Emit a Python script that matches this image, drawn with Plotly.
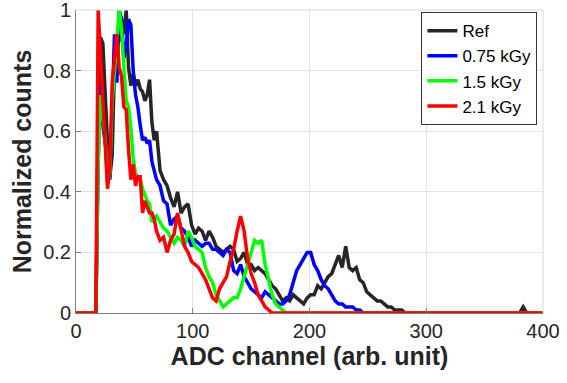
import plotly.graph_objects as go

# ADC channels (x positions of the spectrum samples)
channel = [
    0, 17, 19, 21, 23, 25, 27, 29, 31, 33,
    35, 37, 39, 41, 43, 45, 47, 49, 51, 53,
    55, 57, 59, 61, 63, 65, 67, 69,
    72, 75, 78, 81, 84, 87, 90, 93, 96, 99,
    102, 105, 108, 111, 114, 117, 120, 123, 126, 129,
    132, 135, 138, 141, 144, 147, 150, 153, 156, 159,
    162, 165, 168, 171, 174, 177, 180, 183, 186, 189,
    192, 195, 198, 201, 204, 207, 210, 213, 216, 219,
    222, 225, 228, 231, 234, 237, 240, 243, 246, 249,
    252, 255, 258, 261, 264, 267, 270, 273, 276, 279,
    282, 285, 288, 291, 294, 297,
    330, 380, 383, 386, 400,
]

ref_counts = [
    0, 0, 0.6, 0.91, 0.89, 0.7, 0.56, 0.45, 0.52, 0.83,
    0.88, 0.9, 0.97, 0.92, 1.0, 0.81, 0.75, 0.79, 0.75, 0.77,
    0.74, 0.73, 0.7, 0.72, 0.77, 0.63, 0.57, 0.6,
    0.47, 0.44, 0.42, 0.38, 0.35, 0.4, 0.33, 0.35, 0.36, 0.29,
    0.26, 0.28, 0.27, 0.24, 0.27, 0.25, 0.22, 0.21, 0.2, 0.21,
    0.22, 0.21, 0.17, 0.18, 0.2, 0.16, 0.16, 0.14, 0.15, 0.14,
    0.13, 0.11, 0.09, 0.08, 0.06, 0.04, 0.05, 0.04, 0.06, 0.05,
    0.04, 0.03, 0.05, 0.06, 0.06, 0.09, 0.08, 0.1, 0.12, 0.13,
    0.16, 0.19, 0.15, 0.22, 0.15, 0.14, 0.15, 0.11, 0.1, 0.07,
    0.06, 0.05, 0.04, 0.04, 0.03, 0.02, 0.02, 0.01, 0.01, 0.01,
    0, 0, 0, 0, 0, 0,
    0, 0, 0.02, 0, 0,
]

kgy075_counts = [
    0, 0, 0.5, 0.75, 0.62, 0.56, 0.48, 0.44, 0.68, 0.92,
    0.76, 1.0, 0.97, 0.84, 0.88, 0.97, 0.95, 0.8, 0.72, 0.68,
    0.62, 0.57, 0.58, 0.56, 0.57, 0.5, 0.47, 0.44,
    0.42, 0.37, 0.36, 0.29, 0.31, 0.32, 0.28, 0.27, 0.25, 0.22,
    0.24, 0.23, 0.22, 0.23, 0.23, 0.21, 0.21, 0.2, 0.19, 0.21,
    0.2, 0.14, 0.13, 0.16, 0.12, 0.1, 0.08, 0.07, 0.06, 0.05,
    0.07, 0.06, 0.05, 0.04, 0.03, 0.03, 0.04, 0.06, 0.1, 0.14,
    0.16, 0.18, 0.2, 0.2, 0.16, 0.14, 0.11, 0.09, 0.08, 0.06,
    0.04, 0.03, 0.03, 0.02, 0.02, 0.02, 0.01, 0.01, 0, 0,
    0, 0, 0, 0, 0, 0, 0, 0, 0, 0,
    0, 0, 0, 0, 0, 0,
    0, 0, 0, 0, 0,
]

kgy15_counts = [
    0, 0, 0.5, 0.72, 0.65, 0.58, 0.43, 0.46, 0.7, 0.82,
    0.9, 1.0, 0.94, 0.81, 0.7, 0.68, 0.61, 0.51, 0.46, 0.45,
    0.44, 0.41, 0.39, 0.37, 0.36, 0.3, 0.31, 0.32,
    0.3, 0.28, 0.27, 0.25, 0.23, 0.25, 0.24, 0.22, 0.27, 0.25,
    0.22, 0.21, 0.2, 0.15, 0.12, 0.1, 0.06, 0.04, 0.02, 0.03,
    0.04, 0.05, 0.05, 0.08, 0.12, 0.16, 0.21, 0.24, 0.23, 0.24,
    0.16, 0.11, 0.06, 0.03, 0.02, 0.01, 0, 0, 0, 0,
    0, 0, 0, 0, 0, 0, 0, 0, 0, 0,
    0, 0, 0, 0, 0, 0, 0, 0, 0, 0,
    0, 0, 0, 0, 0, 0, 0, 0, 0, 0,
    0, 0, 0, 0, 0, 0,
    0, 0, 0, 0, 0,
]

kgy21_counts = [
    0, 0, 1.0, 0.86, 0.7, 0.54, 0.41, 0.48, 0.76, 0.84,
    0.92, 0.81, 0.78, 0.68, 0.67, 0.54, 0.44, 0.49, 0.42, 0.45,
    0.45, 0.33, 0.37, 0.35, 0.33, 0.33, 0.31, 0.27,
    0.24, 0.25, 0.2, 0.24, 0.26, 0.33, 0.27, 0.22, 0.2, 0.17,
    0.16, 0.15, 0.13, 0.11, 0.08, 0.05, 0.04, 0.08, 0.1, 0.12,
    0.17, 0.21, 0.27, 0.32, 0.27, 0.18, 0.13, 0.1, 0.06, 0.04,
    0.02, 0.01, 0, 0, 0, 0, 0, 0, 0, 0,
    0, 0, 0, 0, 0, 0, 0, 0, 0, 0,
    0, 0, 0, 0, 0, 0, 0, 0, 0, 0,
    0, 0, 0, 0, 0, 0, 0, 0, 0, 0,
    0, 0, 0, 0, 0, 0,
    0, 0, 0, 0, 0,
]

series_names = ["Ref", "0.75 kGy", "1.5 kGy", "2.1 kGy"]
series_values = [ref_counts, kgy075_counts, kgy15_counts, kgy21_counts]
series_colors = ["#262626", "#0000ff", "#00ff00", "#ff0000"]

x_ticks = [0, 100, 200, 300, 400]
y_ticks = [0, 0.2, 0.4, 0.6, 0.8, 1]
y_tick_labels = ["0", "0.2", "0.4", "0.6", "0.8", "1"]

FONT = "Liberation Sans, Arial, sans-serif"
TXT = "#262626"

fig = go.Figure()
for name, vals, col in zip(series_names, series_values, series_colors):
    assert len(vals) == len(channel)
    fig.add_trace(go.Scatter(
        x=channel, y=vals, mode="lines", name=name,
        line=dict(color=col, width=3.5),
    ))

fig.update_layout(
    width=567, height=383,
    margin=dict(l=76, r=24, t=10, b=70, autoexpand=False),
    paper_bgcolor="white", plot_bgcolor="white",
    font=dict(family=FONT, color=TXT, size=20),
    showlegend=True,
    legend=dict(
        x=0.988, y=0.993, xanchor="right", yanchor="top",
        bgcolor="white", bordercolor="#333333", borderwidth=1,
        font=dict(family=FONT, size=17, color="#000000"),
        tracegroupgap=0, itemwidth=30,
    ),
    xaxis=dict(
        range=[0, 400], tickvals=x_ticks, automargin=False,
        ticklabeloverflow="allow",
        showgrid=True, gridcolor="#e3e3e3", gridwidth=1,
        showline=True, linecolor="#808080", linewidth=1,
        ticks="inside", ticklen=5, tickcolor="#808080",
        zeroline=False,
        title=dict(text="<b>ADC channel (arb. unit)</b>", font=dict(size=25, family=FONT, color=TXT), standoff=6),
    ),
    yaxis=dict(
        range=[0, 1], tickvals=y_ticks, ticktext=y_tick_labels, automargin=False,
        ticklabeloverflow="allow",
        showgrid=True, gridcolor="#e3e3e3", gridwidth=1,
        showline=True, linecolor="#808080", linewidth=1,
        ticks="inside", ticklen=5, tickcolor="#808080",
        zeroline=False,
        title=dict(text="<b>Normalized counts</b>", font=dict(size=25, family=FONT, color=TXT), standoff=4),
    ),
)

# light box on the top and right edges of the plot area
fig.add_shape(type="line", xref="paper", yref="paper", x0=0, x1=1, y0=1, y1=1,
              line=dict(color="#d9d9d9", width=1))
fig.add_shape(type="line", xref="paper", yref="paper", x0=1, x1=1, y0=0, y1=1,
              line=dict(color="#d9d9d9", width=1))

fig.write_html("out.html", config={"displayModeBar": False},
               post_script="document.body.style.margin='0px';")
